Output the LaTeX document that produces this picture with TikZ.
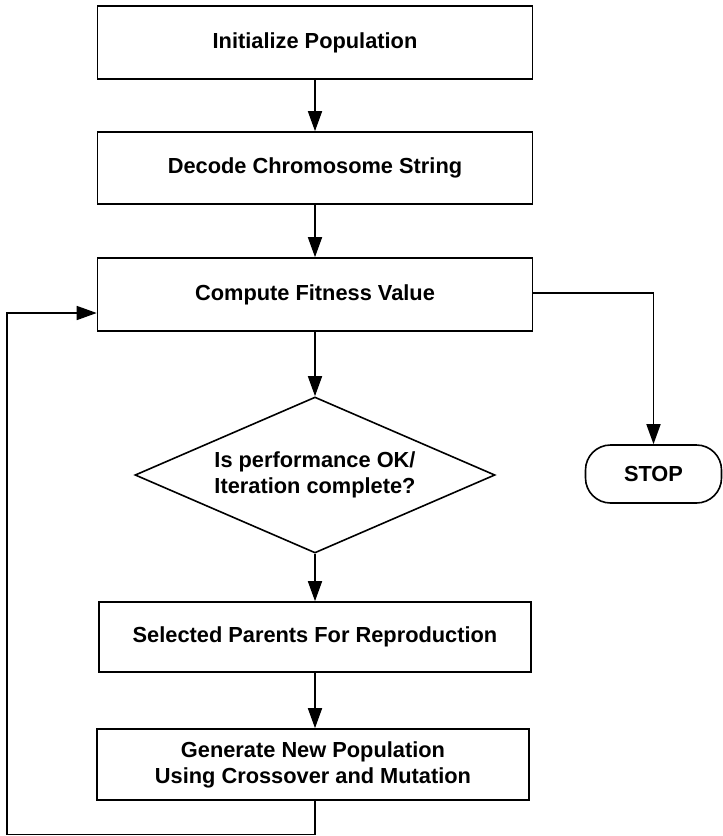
\documentclass[tikz,border=0pt]{standalone}
\usepackage{fontspec}
\setmainfont{Liberation Sans}
\usetikzlibrary{shapes.geometric,shapes.misc,arrows.meta}
\begin{document}
\begin{tikzpicture}[x=1pt,y=1pt,
  line width=1.6pt,
  every node/.style={font=\bfseries\fontsize{21.8}{26}\selectfont, align=center},
  procbox/.style={draw, rectangle, inner sep=0pt, minimum width=435pt, minimum height=72pt},
  decision/.style={draw, diamond, inner sep=0pt, aspect=2.3, minimum width=360pt, minimum height=156pt},
  terminal/.style={draw, rectangle, rounded corners=25pt, inner sep=0pt, minimum width=136pt, minimum height=58pt},
  arr/.style={-{Triangle[length=20pt,width=14pt]}}
]
\useasboundingbox (0,0) rectangle (723,-836);

% process steps of the genetic algorithm
\node[procbox, minimum height=73pt] (init) at (315,-42.5) {Initialize Population};
\node[procbox] (decode) at (315,-168) {Decode Chromosome String};
\node[procbox, minimum height=73pt] (fit) at (315,-294.5) {Compute Fitness Value};
\node[decision] (check) at (315,-475) {Is performance OK/\\Iteration complete?};
\node[terminal] (stop) at (653.5,-474) {STOP};
\node[procbox, minimum width=432pt, minimum height=70pt] (select) at (315,-637) {Selected Parents For Reproduction};
\node[procbox, minimum width=432pt, minimum height=71pt] (gen) at (313,-764.5) {Generate New Population\\Using Crossover and Mutation};

% main flow
\draw[arr] (init) -- (decode);
\draw[arr] (decode) -- (fit);
\draw[arr] (fit) -- (check);
\draw[arr] (check) -- (select);
\draw[arr] (select.south) -- (select.south |- gen.north);

% exit to stop
\draw[arr] ([yshift=1.5pt]fit.east) -| (stop.north);

% loop back to fitness evaluation
\coordinate (loopcorner) at (7,-834.5);
\draw[arr] (gen.south -| select.south) |- (loopcorner) |- ([yshift=-18.5pt]fit.west);
\end{tikzpicture}
\end{document}
